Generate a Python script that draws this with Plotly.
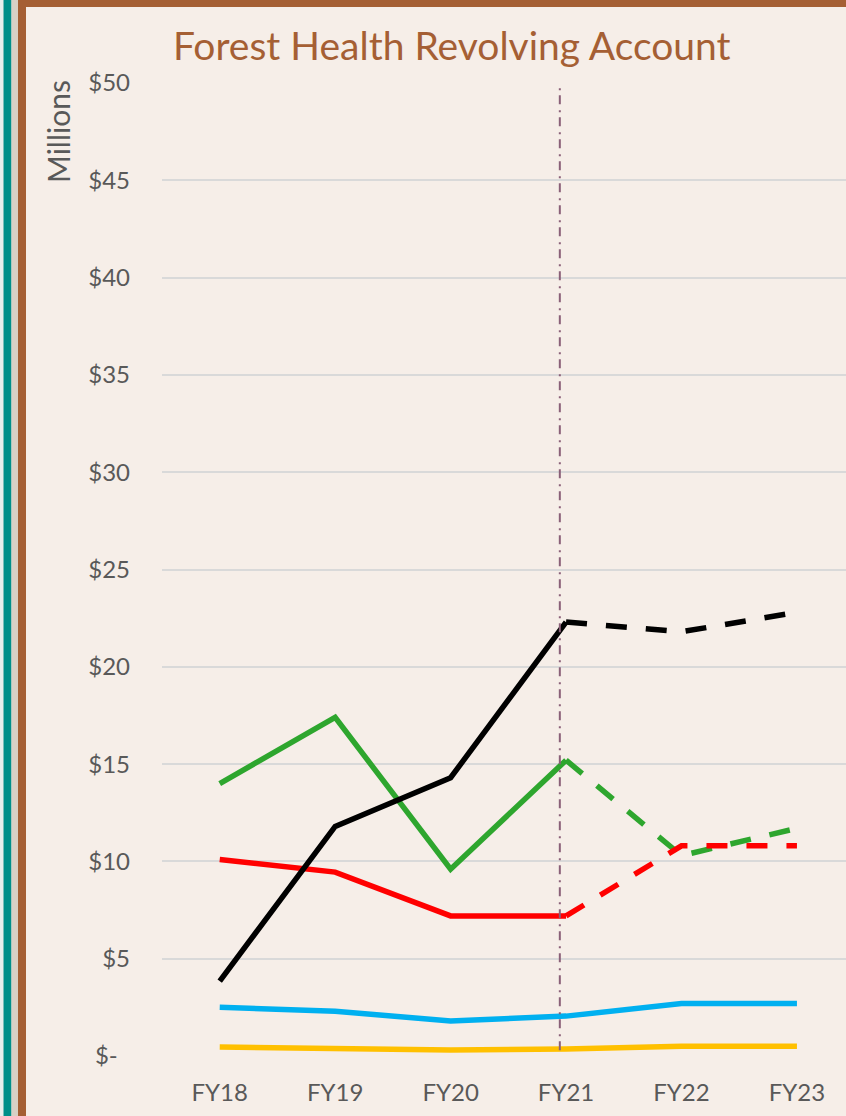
import plotly.graph_objects as go

# ---- data ----
years = ["FY18", "FY19", "FY20", "FY21", "FY22", "FY23"]
actual_years = years[:4]
proj_years = years[3:]

black_actual = [3.85, 11.8, 14.3, 22.3]
black_proj = [22.3, 21.8, 22.8]
green_actual = [14.0, 17.4, 9.6, 15.2]
green_proj = [15.2, 10.3, 11.7]
red_actual = [10.1, 9.45, 7.2, 7.2]
red_proj = [7.2, 10.8, 10.8]
blue_values = [2.5, 2.3, 1.8, 2.05, 2.7, 2.7]
yellow_values = [0.46, 0.41, 0.31, 0.36, 0.5, 0.5]

y_tickvals = [0, 5, 10, 15, 20, 25, 30, 35, 40, 45, 50]
y_ticktext = ["$-\u00a0\u00a0", "$5", "$10", "$15", "$20", "$25", "$30", "$35", "$40", "$45", "$50"]

title_text = "Forest Health Revolving Account"
units_text = "Millions"

# ---- layout geometry (pixels) ----
W, H = 846, 1116
L, R, T, B = 162, 0, 83, 60
PW, PH = W - L - R, H - T - B


def px(xp):
    return (xp - L) / PW


def py(yp):
    return (H - B - yp) / PH


BG = "#f6eee8"
GRID = "#d9d9d9"
TXT = "#595959"
FONT = "Lato, Carlito, Calibri, sans-serif"

fig = go.Figure()

LW = 5.5
DASH = "21px,19px"
fig.add_trace(go.Scatter(x=years, y=yellow_values, mode="lines",
                         line=dict(color="#ffc000", width=LW), showlegend=False))
fig.add_trace(go.Scatter(x=years, y=blue_values, mode="lines",
                         line=dict(color="#00b0f0", width=LW), showlegend=False))
fig.add_trace(go.Scatter(x=actual_years, y=green_actual, mode="lines",
                         line=dict(color="#2ea62e", width=LW), showlegend=False))
fig.add_trace(go.Scatter(x=proj_years, y=green_proj, mode="lines",
                         line=dict(color="#2ea62e", width=LW, dash=DASH), showlegend=False))
fig.add_trace(go.Scatter(x=actual_years, y=red_actual, mode="lines",
                         line=dict(color="#ff0000", width=LW), showlegend=False))
fig.add_trace(go.Scatter(x=proj_years, y=red_proj, mode="lines",
                         line=dict(color="#ff0000", width=LW, dash=DASH), showlegend=False))
fig.add_trace(go.Scatter(x=actual_years, y=black_actual, mode="lines",
                         line=dict(color="#000000", width=LW), showlegend=False))
fig.add_trace(go.Scatter(x=proj_years, y=black_proj, mode="lines",
                         line=dict(color="#000000", width=LW, dash=DASH), showlegend=False))

shapes = [
    dict(type="rect", xref="paper", yref="paper", x0=px(0), x1=px(3.5), y0=py(H), y1=py(0),
         fillcolor="#e9efed", line_width=0, layer="below"),
    dict(type="rect", xref="paper", yref="paper", x0=px(3.5), x1=px(11.5), y0=py(H), y1=py(0),
         fillcolor="#008f89", line_width=0, layer="below"),
    dict(type="rect", xref="paper", yref="paper", x0=px(11.5), x1=px(18), y0=py(H), y1=py(0),
         fillcolor="#d8d0c5", line_width=0, layer="below"),
    dict(type="rect", xref="paper", yref="paper", x0=px(18), x1=px(26), y0=py(H), y1=py(0),
         fillcolor="#a55f34", line_width=0, layer="below"),
    dict(type="rect", xref="paper", yref="paper", x0=px(18), x1=px(W), y0=py(7), y1=py(0),
         fillcolor="#a55f34", line_width=0, layer="below"),
    # FY21 divider
    dict(type="line", xref="x", yref="y", x0=2.946, x1=2.946, y0=0.3, y1=50.5,
         line=dict(color="#8a6078", width=2, dash="9px,5px,2px,6px"), layer="above"),
]

fig.update_layout(
    width=W, height=H,
    margin=dict(l=L, r=R, t=T, b=B, autoexpand=False),
    paper_bgcolor=BG, plot_bgcolor=BG,
    font=dict(family=FONT, color=TXT),
    shapes=shapes,
    xaxis=dict(type="category", range=[-0.5, 5.425], showgrid=False, zeroline=False,
               showline=False, ticks="", tickfont=dict(size=24, color=TXT),
               ticklabelstandoff=20, fixedrange=True),
    yaxis=dict(range=[0, 50], tickvals=y_tickvals, ticktext=y_ticktext,
               showgrid=True, gridcolor=GRID, gridwidth=1.5, zeroline=False,
               showline=False, ticks="", tickfont=dict(size=24, color=TXT),
               ticklabelstandoff=31, fixedrange=True),
    annotations=[
        dict(text=title_text, xref="paper", yref="paper", x=px(452), y=py(45),
             xanchor="center", yanchor="middle", showarrow=False,
             font=dict(size=39, color="#a55f34", family=FONT)),
        dict(text=units_text, xref="paper", yref="paper", x=px(58), y=py(132),
             xanchor="center", yanchor="middle", showarrow=False, textangle=-90,
             font=dict(size=30, color=TXT, family=FONT)),
    ],
)

fig.write_html("out.html", config={"displayModeBar": False},
               post_script="document.body.style.margin='0';document.body.style.overflow='hidden';")
